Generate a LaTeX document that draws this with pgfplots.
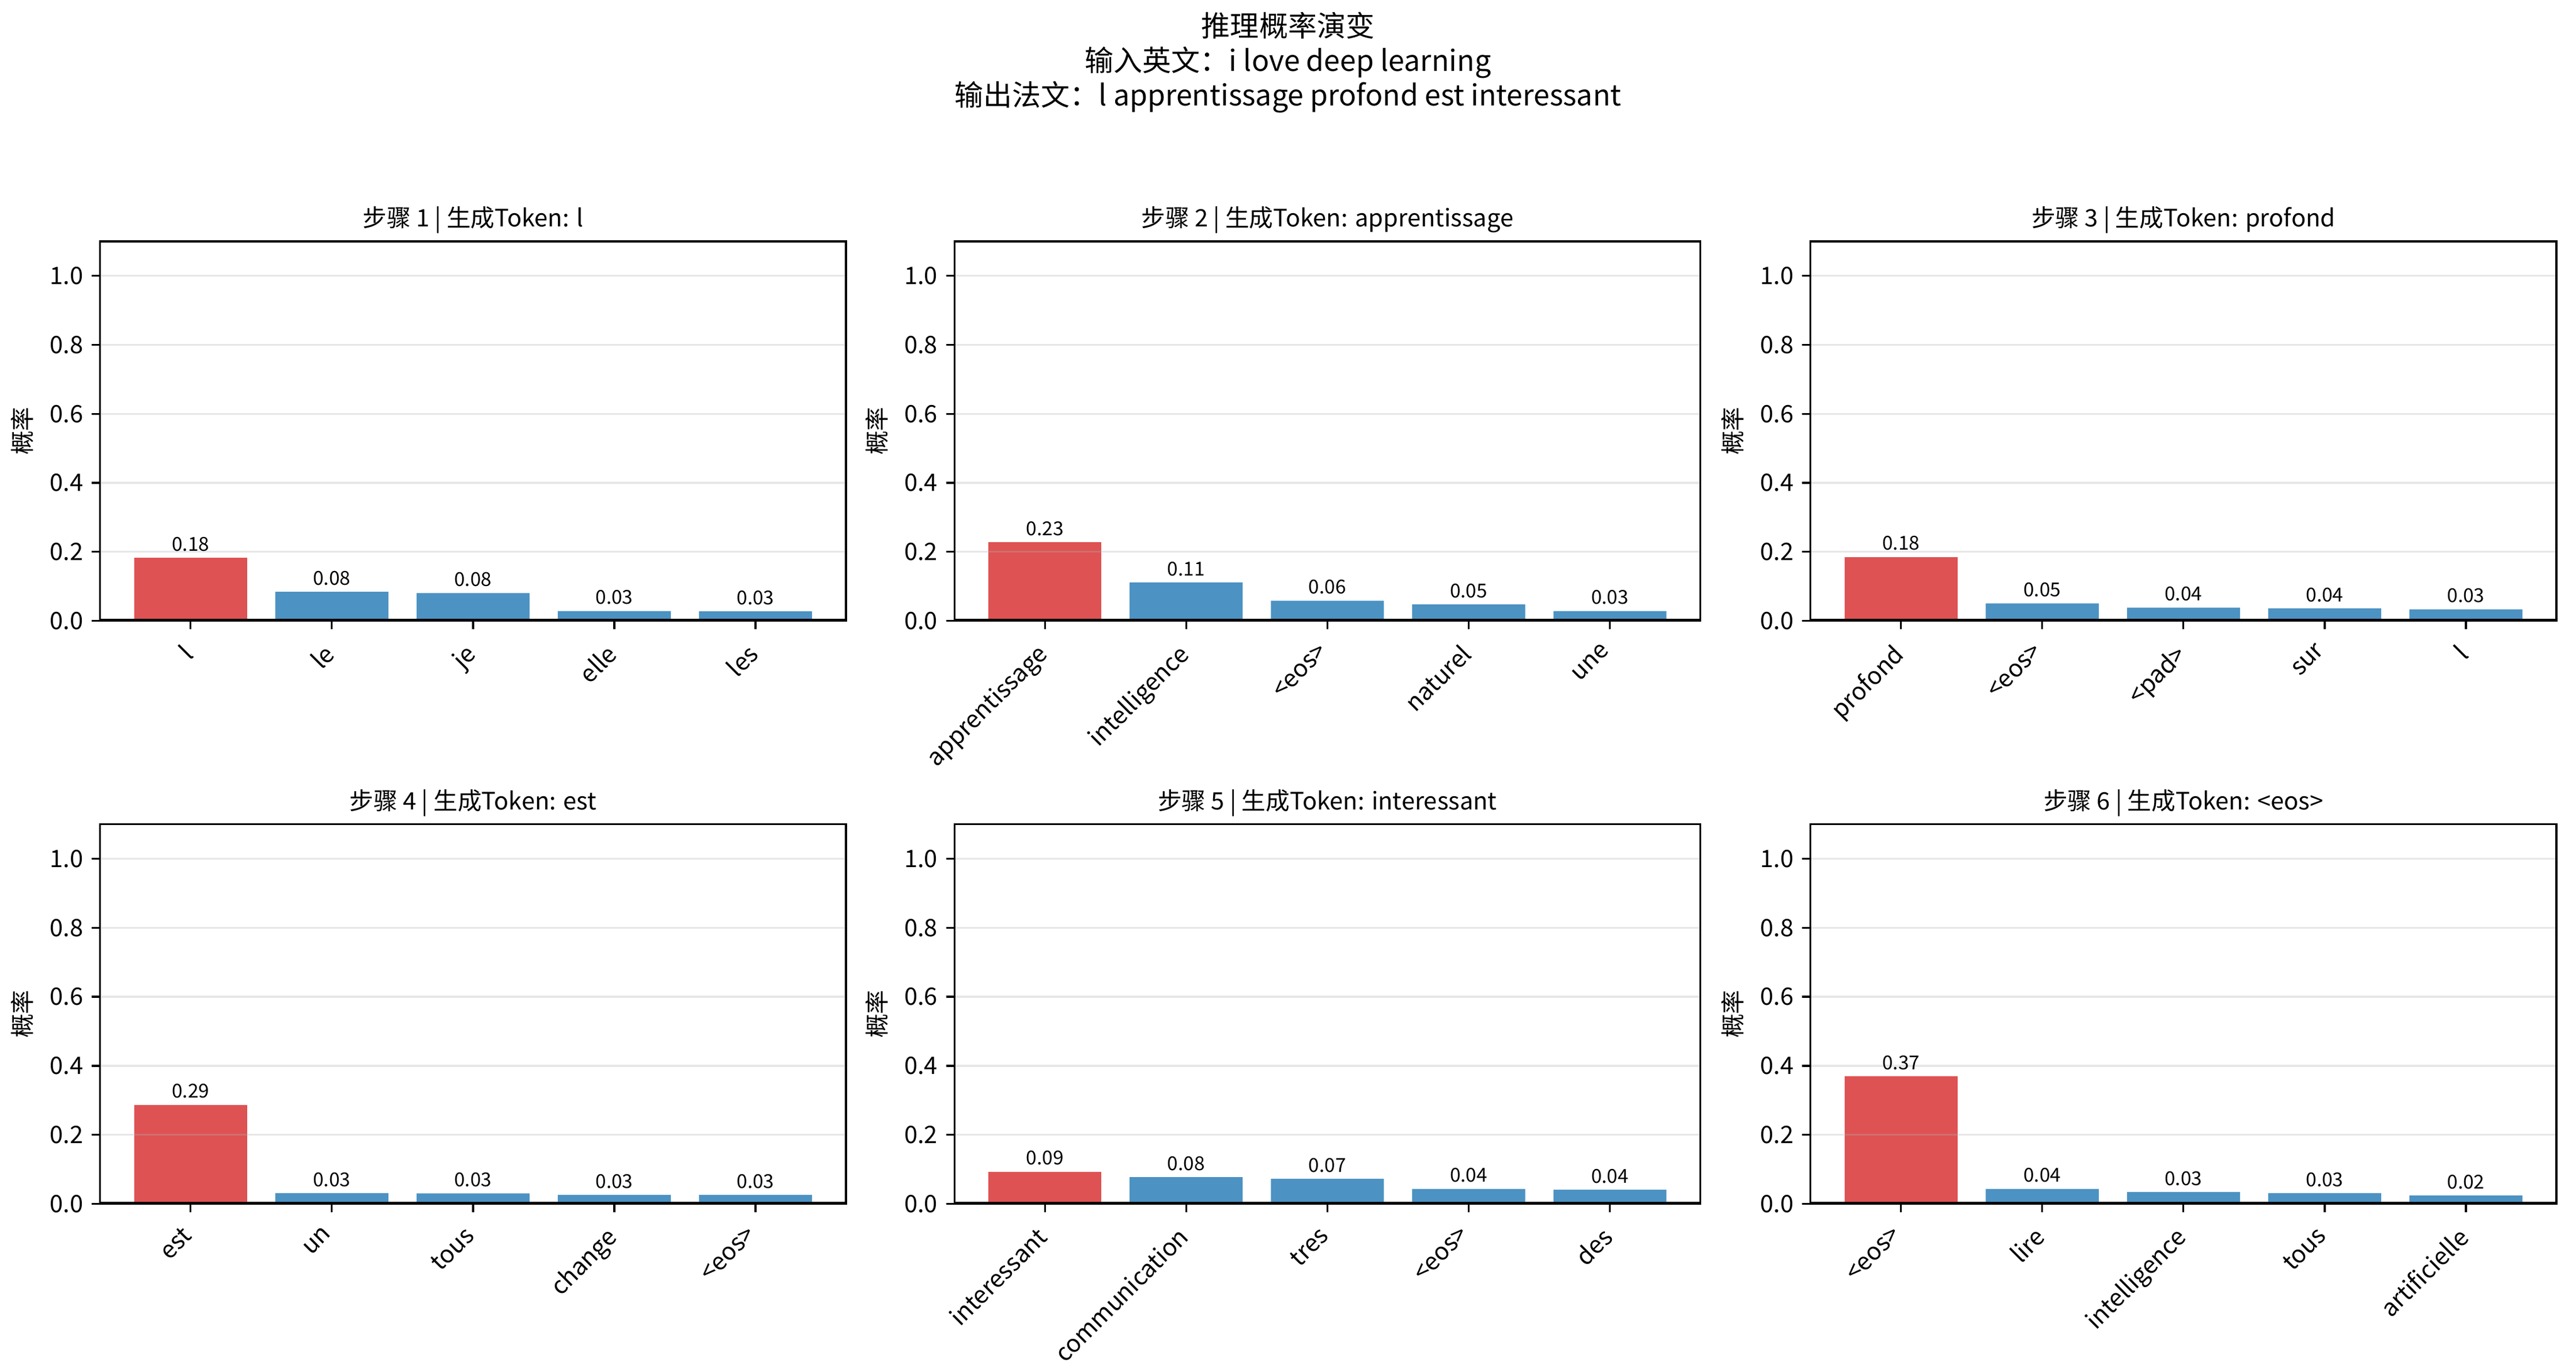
\documentclass[border=0pt]{standalone}
\usepackage{fontspec}
\setmainfont{Noto Sans CJK SC}
\usepackage{pgfplots}
\pgfplotsset{compat=1.18}
\definecolor{barred}{RGB}{222,82,83}
\definecolor{barblue}{RGB}{76,146,195}
\pgfplotsset{
  probax/.style={
    scale only axis, width=310.5pt, height=158pt,
    anchor=south west,
    ybar, bar shift=0pt, bar width=0.8,
    enlargelimits=false,
    xmin=-0.64, xmax=4.64, ymin=0, ymax=1.1,
    xtick={0,1,2,3,4}, ytick={0,0.2,0.4,0.6,0.8,1.0},
    scaled y ticks=false,
    yticklabel style={/pgf/number format/fixed,/pgf/number format/fixed zerofill,/pgf/number format/precision=1,/pgf/number format/assume math mode=true},
    tick align=outside, major tick length=3.5pt,
    xtick pos=left, ytick pos=left,
    tick style={black, line width=0.8pt},
    axis line style={line width=0.8pt},
    ymajorgrids, grid style={color=black!31, opacity=0.3, line width=0.8pt},
    axis on top,
    ticklabel style={font=\fontsize{10}{12}\selectfont},
    xticklabel style={rotate=45, anchor=north east, xshift=-5.5pt, inner sep=1pt},
    ylabel={概率}, ylabel style={font=\fontsize{10}{12}\selectfont},
    title style={font=\fontsize{10}{12}\selectfont, anchor=base},
    nodes near coords, point meta=explicit symbolic,
    nodes near coords style={font=\fontsize{8}{9.6}\selectfont, anchor=south, inner sep=0pt, yshift=2.5pt},
  },
  redbar/.style={fill=barred, draw=none, bar shift=0pt},
  bluebar/.style={fill=barblue, draw=none, bar shift=0pt},
}
\begin{document}
\begin{tikzpicture}
\useasboundingbox (0pt,0pt) rectangle (1072.5pt,567pt);
\node[align=center, font=\fontsize{12}{14.4}\selectfont] at (536.25pt,541pt) {推理概率演变\\输入英文：i love deep learning\\输出法文：l apprentissage profond est interessant};

% Step 1
\begin{axis}[probax, at={(41.7pt,308.5pt)}, title={步骤 1 | 生成Token: l}, xticklabels={l,le,je,elle,les}]
\addplot[redbar] coordinates {(0,0.183) [0.18]};
\addplot[bluebar] coordinates {(1,0.084) [0.08] (2,0.080) [0.08] (3,0.028) [0.03] (4,0.027) [0.03]};
\draw[line width=1.6pt] (axis cs:-0.64,0) -- (axis cs:4.64,0);
\end{axis}

% Step 2
\begin{axis}[probax, at={(397.4pt,308.5pt)}, title={步骤 2 | 生成Token: apprentissage}, xticklabels={apprentissage,intelligence,<eos>,naturel,une}]
\addplot[redbar] coordinates {(0,0.227) [0.23]};
\addplot[bluebar] coordinates {(1,0.111) [0.11] (2,0.058) [0.06] (3,0.047) [0.05] (4,0.028) [0.03]};
\draw[line width=1.6pt] (axis cs:-0.64,0) -- (axis cs:4.64,0);
\end{axis}

% Step 3
\begin{axis}[probax, at={(753.8pt,308.5pt)}, title={步骤 3 | 生成Token: profond}, xticklabels={profond,<eos>,<pad>,sur,l}]
\addplot[redbar] coordinates {(0,0.185) [0.18]};
\addplot[bluebar] coordinates {(1,0.050) [0.05] (2,0.038) [0.04] (3,0.036) [0.04] (4,0.033) [0.03]};
\draw[line width=1.6pt] (axis cs:-0.64,0) -- (axis cs:4.64,0);
\end{axis}

% Step 4
\begin{axis}[probax, at={(41.7pt,65.7pt)}, title={步骤 4 | 生成Token: est}, xticklabels={est,un,tous,change,<eos>}]
\addplot[redbar] coordinates {(0,0.287) [0.29]};
\addplot[bluebar] coordinates {(1,0.031) [0.03] (2,0.030) [0.03] (3,0.026) [0.03] (4,0.026) [0.03]};
\draw[line width=1.6pt] (axis cs:-0.64,0) -- (axis cs:4.64,0);
\end{axis}

% Step 5
\begin{axis}[probax, at={(397.4pt,65.7pt)}, title={步骤 5 | 生成Token: interessant}, xticklabels={interessant,communication,tres,<eos>,des}]
\addplot[redbar] coordinates {(0,0.093) [0.09]};
\addplot[bluebar] coordinates {(1,0.077) [0.08] (2,0.072) [0.07] (3,0.043) [0.04] (4,0.041) [0.04]};
\draw[line width=1.6pt] (axis cs:-0.64,0) -- (axis cs:4.64,0);
\end{axis}

% Step 6
\begin{axis}[probax, at={(753.8pt,65.7pt)}, title={步骤 6 | 生成Token: <eos>}, xticklabels={<eos>,lire,intelligence,tous,artificielle}]
\addplot[redbar] coordinates {(0,0.369) [0.37]};
\addplot[bluebar] coordinates {(1,0.043) [0.04] (2,0.034) [0.03] (3,0.031) [0.03] (4,0.024) [0.02]};
\draw[line width=1.6pt] (axis cs:-0.64,0) -- (axis cs:4.64,0);
\end{axis}
\end{tikzpicture}
\end{document}
